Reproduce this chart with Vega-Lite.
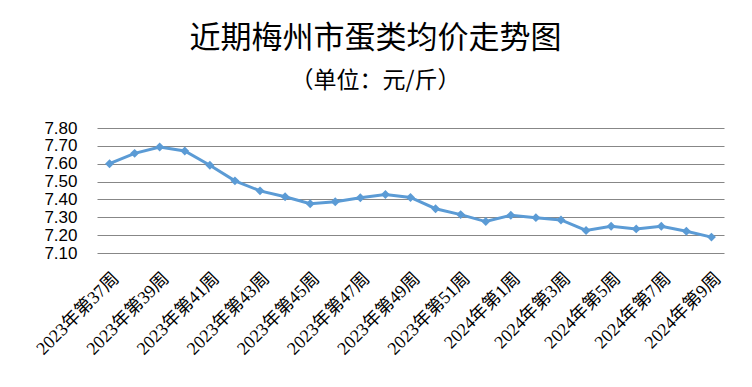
{
  "$schema": "https://vega.github.io/schema/vega-lite/v6.json",
  "width": 627,
  "height": 125,
  "autosize": {"type": "none"},
  "padding": {"left": 97, "top": 128, "right": 28, "bottom": 134},
  "background": "white",
  "title": {
    "text": "近期梅州市蛋类均价走势图",
    "subtitle": "（单位：元/斤）",
    "anchor": "middle",
    "frame": "group",
    "dx": -35,
    "font": "Noto Sans CJK SC",
    "fontSize": 31,
    "fontWeight": "normal",
    "color": "black",
    "subtitleFont": "Noto Sans CJK SC",
    "subtitleFontSize": 23,
    "subtitleColor": "black",
    "subtitlePadding": 15,
    "offset": 25
  },
  "data": {
    "values": [
      {"week": "2023年第37周", "price": 7.60},
      {"week": "2023年第38周", "price": 7.658},
      {"week": "2023年第39周", "price": 7.694},
      {"week": "2023年第40周", "price": 7.671},
      {"week": "2023年第41周", "price": 7.591},
      {"week": "2023年第42周", "price": 7.504},
      {"week": "2023年第43周", "price": 7.448},
      {"week": "2023年第44周", "price": 7.415},
      {"week": "2023年第45周", "price": 7.376},
      {"week": "2023年第46周", "price": 7.387},
      {"week": "2023年第47周", "price": 7.409},
      {"week": "2023年第48周", "price": 7.428},
      {"week": "2023年第49周", "price": 7.411},
      {"week": "2023年第50周", "price": 7.348},
      {"week": "2023年第51周", "price": 7.315},
      {"week": "2023年第52周", "price": 7.276},
      {"week": "2024年第1周", "price": 7.311},
      {"week": "2024年第2周", "price": 7.298},
      {"week": "2024年第3周", "price": 7.285},
      {"week": "2024年第4周", "price": 7.226},
      {"week": "2024年第5周", "price": 7.25},
      {"week": "2024年第6周", "price": 7.235},
      {"week": "2024年第7周", "price": 7.25},
      {"week": "2024年第8周", "price": 7.222},
      {"week": "2024年第9周", "price": 7.189}
    ]
  },
  "encoding": {
    "x": {
      "field": "week",
      "type": "nominal",
      "sort": null,
      "scale": {"type": "point", "padding": 0.5},
      "axis": {
        "title": null,
        "values": ["2023年第37周", "2023年第39周", "2023年第41周", "2023年第43周", "2023年第45周", "2023年第47周", "2023年第49周", "2023年第51周", "2024年第1周", "2024年第3周", "2024年第5周", "2024年第7周", "2024年第9周"],
        "labelAngle": -45,
        "labelFont": "Liberation Serif, Noto Sans CJK SC",
        "labelFontSize": 18,
        "labelColor": "black",
        "ticks": false,
        "domain": false,
        "grid": false,
        "labelPadding": 16
      }
    },
    "y": {
      "field": "price",
      "type": "quantitative",
      "scale": {"domain": [7.1, 7.8], "nice": false, "zero": false},
      "axis": {
        "title": null,
        "values": [7.1, 7.2, 7.3, 7.4, 7.5, 7.6, 7.7, 7.8],
        "format": ".2f",
        "labelFont": "Liberation Sans",
        "labelFontSize": 17,
        "labelColor": "black",
        "labelPadding": 20,
        "ticks": false,
        "domain": false,
        "grid": true,
        "gridColor": "#878787",
        "gridWidth": 1
      }
    }
  },
  "layer": [
    {"mark": {"type": "line", "color": "#5B9BD5", "strokeWidth": 3}},
    {"mark": {"type": "point", "shape": "diamond", "filled": true, "size": 80, "color": "#5B9BD5", "opacity": 1}}
  ],
  "config": {"view": {"stroke": null}}
}
